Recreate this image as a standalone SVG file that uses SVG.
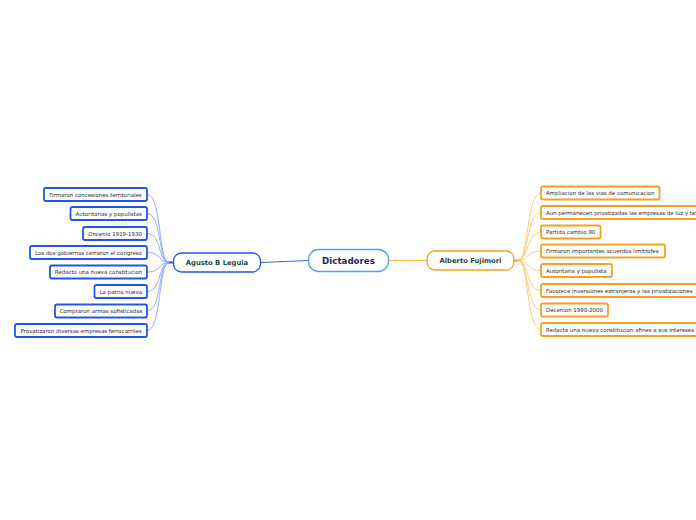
<svg xmlns="http://www.w3.org/2000/svg" width="696" height="520" viewBox="0 0 696 520">
<style>
.bg{fill:#ffffff}
.lb{fill:#fff;stroke:#2255ee;stroke-width:1.8}
.rb{fill:#fff;stroke:#f5a020;stroke-width:1.8}
.ct{font-family:"DejaVu Sans",Verdana,sans-serif;font-size:5.45px;fill:#2a2a2a}
.mt{font-family:"DejaVu Sans",Verdana,sans-serif;font-size:6.8px;font-weight:bold;fill:#1d4a3c}
.rt{font-family:"DejaVu Sans",Verdana,sans-serif;font-size:8.7px;font-weight:bold;fill:#1a2a4a}
.lc{fill:none;stroke:#88a4f8;stroke-width:0.9}
.rc{fill:none;stroke:#fcc474;stroke-width:0.9}
</style>
<rect class="bg" x="0" y="0" width="696" height="520"/>
<g id="connectors">
<path d="M308,260.5 L261,262.5" stroke="#3366ee" stroke-width="1" fill="none"/>
<path d="M389,260.5 L427,260.5" stroke="#f8b040" stroke-width="1.2" fill="none"/>
<path d="M168,262.5 L174,262.5" stroke="#2255ee" stroke-width="2" fill="none"/>
<path d="M513,260.5 L519,260.5" stroke="#f5a020" stroke-width="2" fill="none"/>
<path class="lc" d="M147,194.5 C162,194.5 158,262.5 169,262.5"/>
<path class="lc" d="M147,213.5 C162,213.5 158,262.5 169,262.5"/>
<path class="lc" d="M147,233.5 C162,233.5 158,262.5 169,262.5"/>
<path class="lc" d="M147,252.5 C162,252.5 158,262.5 169,262.5"/>
<path class="lc" d="M147,272 C162,272 158,262.5 169,262.5"/>
<path class="lc" d="M147,291.5 C162,291.5 158,262.5 169,262.5"/>
<path class="lc" d="M147,311 C162,311 158,262.5 169,262.5"/>
<path class="lc" d="M147,330.5 C162,330.5 158,262.5 169,262.5"/>
<path class="rc" d="M518,260.5 C529,260.5 526,193 541,193"/>
<path class="rc" d="M518,260.5 C529,260.5 526,212.5 541,212.5"/>
<path class="rc" d="M518,260.5 C529,260.5 526,232 541,232"/>
<path class="rc" d="M518,260.5 C529,260.5 526,251 541,251"/>
<path class="rc" d="M518,260.5 C529,260.5 526,270.5 541,270.5"/>
<path class="rc" d="M518,260.5 C529,260.5 526,290.5 541,290.5"/>
<path class="rc" d="M518,260.5 C529,260.5 526,310 541,310"/>
<path class="rc" d="M518,260.5 C529,260.5 526,329.5 541,329.5"/>
</g>
<g id="root">
<rect x="308.5" y="249.5" width="80" height="22" rx="10" fill="#fff" stroke="#5aa0dc" stroke-width="1.3"/>
<text class="rt" x="348.5" y="263.7" text-anchor="middle">Dictadores</text>
</g>
<g id="leguia">
<rect x="173.5" y="253" width="87" height="19" rx="8" fill="#fff" stroke="#2255ee" stroke-width="1.3"/>
<text class="mt" x="217" y="265" text-anchor="middle">Agusto B Leguia</text>
</g>
<g id="fujimori">
<rect x="427" y="251" width="87" height="19" rx="8" fill="#fff" stroke="#f5a020" stroke-width="1.3"/>
<text class="mt" x="470.5" y="263" text-anchor="middle">Alberto Fujimori</text>
</g>
<g id="l1"><rect class="lb" x="44" y="188" width="103" height="13" rx="2"/><text class="ct" x="95.5" y="196.5" text-anchor="middle">Firmaron concesiones territoriales</text></g>
<g id="l2"><rect class="lb" x="70.5" y="207" width="76.5" height="13" rx="2"/><text class="ct" x="108.7" y="215.5" text-anchor="middle">Autoritarias y populistas</text></g>
<g id="l3"><rect class="lb" x="83" y="227" width="64" height="13" rx="2"/><text class="ct" x="115" y="235.5" text-anchor="middle">Oncenio 1919-1930</text></g>
<g id="l4"><rect class="lb" x="30" y="246" width="117" height="13" rx="2"/><text class="ct" x="88.5" y="254.5" text-anchor="middle">Los dos gobiernos cerraron el congreso</text></g>
<g id="l5"><rect class="lb" x="50" y="265.5" width="97" height="13" rx="2"/><text class="ct" x="98.5" y="274" text-anchor="middle">Redacto una nueva constitucion</text></g>
<g id="l6"><rect class="lb" x="94.5" y="285" width="52.5" height="13" rx="2"/><text class="ct" x="120.7" y="293.5" text-anchor="middle">La patria nueva</text></g>
<g id="l7"><rect class="lb" x="55" y="304.5" width="92" height="13" rx="2"/><text class="ct" x="101" y="313" text-anchor="middle">Compraron armas sofisticadas</text></g>
<g id="l8"><rect class="lb" x="15" y="324" width="132" height="13" rx="2"/><text class="ct" x="81" y="332.5" text-anchor="middle">Provatizaron diversas empresas ferrocarriles</text></g>
<g id="r1"><rect class="rb" x="541" y="186.5" width="118.5" height="13" rx="2"/><text class="ct" x="546" y="195">Ampliacion de las vias de comunicacion</text></g>
<g id="r2"><rect class="rb" x="541" y="206" width="185" height="13" rx="2"/><text class="ct" x="546" y="214.5">Aun permanecen privatizadas las empresas de luz y telefono</text></g>
<g id="r3"><rect class="rb" x="541" y="225.5" width="59.5" height="13" rx="2"/><text class="ct" x="546" y="234">Partido cambio 90</text></g>
<g id="r4"><rect class="rb" x="541" y="244.5" width="124" height="13" rx="2"/><text class="ct" x="546" y="253">Firmaron importantes acuerdos limitrofes</text></g>
<g id="r5"><rect class="rb" x="541" y="264" width="71" height="13" rx="2"/><text class="ct" x="546" y="272.5">Autoritaria y populista</text></g>
<g id="r6"><rect class="rb" x="541" y="284" width="170" height="13" rx="2"/><text class="ct" x="546" y="292.5">Favorece inversiones estranjeras y las privatizaciones</text></g>
<g id="r7"><rect class="rb" x="541" y="303.5" width="67" height="13" rx="2"/><text class="ct" x="546" y="312">Decenion 1990-2000</text></g>
<g id="r8"><rect class="rb" x="541" y="323" width="170" height="13" rx="2"/><text class="ct" x="546" y="331.5">Redacta una nueva constitucion afines a sus intereses</text></g>
</svg>
